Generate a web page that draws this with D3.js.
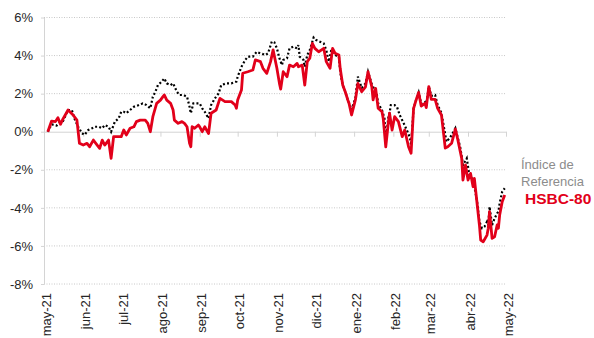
<!DOCTYPE html>
<html>
<head>
<meta charset="utf-8">
<script src="https://cdn.jsdelivr.net/npm/d3@7"></script>
<style>
  body { margin: 0; background: #fff; }
  svg { display: block; font-family: "Liberation Sans", Arial, sans-serif; }
</style>
</head>
<body>
<svg id="chart" width="594" height="338"></svg>
<script>
// Month ticks and their labels
const monthTicks = ["2021-05-01","2021-06-01","2021-07-01","2021-08-01","2021-09-01","2021-10-01",
  "2021-11-01","2021-12-01","2022-01-01","2022-02-01","2022-03-01","2022-04-01","2022-05-01"];
const monthLabels = ["may-21","jun-21","jul-21","ago-21","sep-21","oct-21",
  "nov-21","dic-21","ene-22","feb-22","mar-22","abr-22","may-22"];
const yTicks = [6, 4, 2, 0, -2, -4, -6, -8];

// HSBC-80 cumulative return (%)
const hsbcDates = [
  "2021-05-04","2021-05-07","2021-05-10","2021-05-12","2021-05-14","2021-05-16","2021-05-20","2021-05-24","2021-05-27","2021-05-29",
  "2021-06-01","2021-06-04","2021-06-06","2021-06-09","2021-06-12","2021-06-14","2021-06-16","2021-06-18","2021-06-21","2021-06-23","2021-06-25","2021-06-29",
  "2021-07-01","2021-07-03","2021-07-05","2021-07-08","2021-07-11","2021-07-13","2021-07-16","2021-07-20","2021-07-22","2021-07-24","2021-07-26","2021-07-29",
  "2021-08-01","2021-08-03","2021-08-04","2021-08-06","2021-08-09","2021-08-11","2021-08-12","2021-08-15","2021-08-18","2021-08-20","2021-08-22","2021-08-24","2021-08-25","2021-08-26","2021-08-28","2021-08-31",
  "2021-09-01","2021-09-03","2021-09-05","2021-09-08","2021-09-10","2021-09-14","2021-09-17","2021-09-21","2021-09-26","2021-09-29","2021-09-30",
  "2021-10-01","2021-10-04","2021-10-05","2021-10-09","2021-10-13","2021-10-15","2021-10-19","2021-10-21","2021-10-24","2021-10-27","2021-10-29",
  "2021-11-01","2021-11-03","2021-11-04","2021-11-06","2021-11-09","2021-11-11","2021-11-14","2021-11-17","2021-11-18","2021-11-21","2021-11-23","2021-11-25","2021-11-27","2021-11-29",
  "2021-12-01","2021-12-04","2021-12-06","2021-12-08","2021-12-10","2021-12-13","2021-12-15","2021-12-17","2021-12-20","2021-12-21","2021-12-23","2021-12-25","2021-12-27","2021-12-28","2021-12-30",
  "2022-01-02","2022-01-04","2022-01-07","2022-01-10","2022-01-12","2022-01-15","2022-01-16","2022-01-18","2022-01-19","2022-01-20","2022-01-23","2022-01-24","2022-01-26","2022-01-28","2022-01-29","2022-01-31",
  "2022-02-02","2022-02-05","2022-02-08","2022-02-10","2022-02-13","2022-02-15","2022-02-17","2022-02-19","2022-02-21","2022-02-23","2022-02-26","2022-02-27",
  "2022-03-01","2022-03-03","2022-03-06","2022-03-08","2022-03-11","2022-03-14","2022-03-16","2022-03-19","2022-03-22","2022-03-24","2022-03-27","2022-03-28","2022-03-30",
  "2022-04-01","2022-04-03","2022-04-05","2022-04-06","2022-04-08","2022-04-10","2022-04-11","2022-04-13","2022-04-16","2022-04-17","2022-04-18","2022-04-20","2022-04-22","2022-04-24","2022-04-25","2022-04-26","2022-04-28","2022-04-30"
];
const hsbcValues = [
  0.0, 0.56, 0.53, 0.74, 0.39, 0.67, 1.14, 0.88, 0.61, -0.61,
  -0.70, -0.61, -0.79, -0.44, -0.70, -0.87, -0.44, -0.70, -0.44, -1.40, -0.26, -0.26,
  -0.26, 0.09, -0.17, 0.18, 0.26, 0.53, 0.61, 0.61, 0.44, 0.0, 0.79, 1.49,
  1.66, 1.84, 1.93, 1.66, 1.49, 1.14, 0.61, 0.44, 0.53, 0.44, 0.26, -0.61, -0.79, 0.26, 0.18, 0.35,
  0.26, 0.0, 0.26, -0.10, 0.97, 1.14, 1.75, 1.58, 1.58, 1.40, 1.23,
  1.66, 2.19, 3.07, 3.15, 3.24, 3.77, 3.68, 3.33, 3.07, 3.68, 4.30,
  3.33, 2.54, 2.24, 3.15, 2.89, 3.50, 3.41, 3.59, 3.41, 3.50, 2.45, 3.68, 3.86, 4.64,
  4.38, 4.20, 4.29, 4.38, 3.68, 3.33, 4.38, 4.12, 4.03, 3.33, 2.45, 2.10, 1.67, 1.49, 0.88,
  1.67, 2.54, 2.10, 2.36, 3.15, 2.36, 1.67, 2.28, 1.75, 1.23, 1.05, 0.70, -0.79, 0.44, 0.97, 0.09,
  0.79, 0.53, -0.26, 0.09, -0.79, -1.13, 1.23, 1.67, 2.06, 1.35, 1.49, 1.27,
  2.37, 1.70, 1.70, 1.23, 0.88, -0.86, -0.79, -0.61, 0.14, -0.44, -1.40, -2.54, -1.75,
  -2.54, -2.19, -2.89, -2.45, -3.68, -4.90, -5.69, -5.78, -5.43, -5.07, -4.20, -5.60, -5.52, -4.90, -5.07, -4.38, -3.68, -3.33
];

// Benchmark index ("Índice de Referencia") cumulative return (%)
const refDates = [
  "2021-05-04","2021-05-07","2021-05-11","2021-05-14","2021-05-16","2021-05-20","2021-05-23","2021-05-25","2021-05-28","2021-05-31",
  "2021-06-02","2021-06-05","2021-06-08","2021-06-10","2021-06-13","2021-06-16","2021-06-18","2021-06-21","2021-06-23","2021-06-26","2021-06-29",
  "2021-07-01","2021-07-03","2021-07-05","2021-07-08","2021-07-11","2021-07-15","2021-07-18","2021-07-21","2021-07-24","2021-07-26","2021-07-28","2021-07-30",
  "2021-08-02","2021-08-04","2021-08-06","2021-08-09","2021-08-11","2021-08-14","2021-08-16","2021-08-19","2021-08-22","2021-08-24","2021-08-25","2021-08-27","2021-08-30",
  "2021-09-01","2021-09-03","2021-09-05","2021-09-08","2021-09-10","2021-09-13","2021-09-16","2021-09-18","2021-09-22","2021-09-26","2021-09-30",
  "2021-10-01","2021-10-04","2021-10-07","2021-10-09","2021-10-13","2021-10-16","2021-10-19","2021-10-23","2021-10-25","2021-10-28","2021-10-30",
  "2021-11-01","2021-11-03","2021-11-05","2021-11-06","2021-11-09","2021-11-11","2021-11-14","2021-11-17","2021-11-18","2021-11-19","2021-11-22","2021-11-23","2021-11-25","2021-11-27","2021-11-30",
  "2021-12-02","2021-12-05","2021-12-08","2021-12-10","2021-12-12","2021-12-14","2021-12-17","2021-12-20","2021-12-21","2021-12-23","2021-12-25","2021-12-27","2021-12-30",
  "2022-01-02","2022-01-04","2022-01-07","2022-01-10","2022-01-12","2022-01-15","2022-01-16","2022-01-19","2022-01-20","2022-01-23","2022-01-25","2022-01-26","2022-01-28","2022-01-29","2022-01-30",
  "2022-02-02","2022-02-04","2022-02-06","2022-02-09","2022-02-11","2022-02-14","2022-02-15","2022-02-17","2022-02-19","2022-02-21","2022-02-23","2022-02-26","2022-02-27",
  "2022-03-01","2022-03-03","2022-03-06","2022-03-08","2022-03-11","2022-03-15","2022-03-18","2022-03-22","2022-03-26","2022-03-28","2022-03-31",
  "2022-04-02","2022-04-05","2022-04-08","2022-04-10","2022-04-12","2022-04-14","2022-04-16","2022-04-17","2022-04-18","2022-04-20","2022-04-22","2022-04-24","2022-04-25","2022-04-26","2022-04-28","2022-04-30"
];
const refValues = [
  0.0, 0.39, 0.32, 0.51, 0.56, 1.14, 1.14, 0.70, 0.26, -0.08,
  -0.17, 0.09, 0.18, 0.26, 0.26, 0.18, 0.35, 0.26, 0.0, 0.53, 0.70,
  1.05, 1.05, 0.97, 1.14, 1.31, 1.40, 1.49, 1.40, 1.23, 1.84, 2.10, 2.45,
  2.63, 2.80, 2.54, 2.45, 2.54, 2.10, 1.93, 1.93, 1.84, 1.31, 0.97, 1.49, 1.49,
  1.49, 1.23, 1.05, 0.70, 1.40, 1.75, 2.02, 2.45, 2.54, 2.54, 2.63,
  2.89, 3.41, 3.77, 3.94, 3.94, 4.20, 4.12, 4.03, 4.12, 4.74, 4.69,
  4.38, 3.86, 3.50, 3.77, 3.86, 4.38, 4.47, 4.38, 4.55, 3.94, 3.77, 3.41, 4.03, 4.29, 4.95,
  4.82, 4.73, 4.64, 4.29, 3.68, 4.29, 4.03, 3.94, 3.15, 2.45, 2.10, 1.67, 1.14,
  1.77, 2.89, 2.30, 2.54, 3.15, 2.50, 2.36, 1.93, 1.49, 1.14, 0.70, -0.50, 0.72, 0.97, 1.40,
  1.40, 1.28, 0.88, 0.47, 0.18, -0.28, -0.70, 1.23, 1.67, 2.06, 1.46, 1.56, 1.35,
  2.37, 1.88, 1.93, 1.40, 0.98, -0.53, -0.29, 0.18, -0.87, -1.75, -1.40,
  -2.27, -2.54, -3.59, -4.73, -5.07, -4.99, -4.73, -4.90, -3.94, -4.90, -4.55, -4.29, -4.20, -3.76, -3.15, -2.97
];

const parse = d3.utcParse("%Y-%m-%d");
const svg = d3.select("#chart");

const x = d3.scaleUtc()
  .domain([parse(monthTicks[0]), parse(monthTicks[monthTicks.length - 1])])
  .range([44, 506]);
const y = d3.scaleLinear().domain([-8, 6]).range([284, 17.5]);

const axisColor = "#d4d4d4";
const textColor = "#262626";

// dotted horizontal gridlines
svg.append("g")
  .selectAll("line")
  .data(yTicks.filter(d => d !== 0))
  .join("line")
  .attr("x1", x.range()[0]).attr("x2", x.range()[1])
  .attr("y1", d => y(d)).attr("y2", d => y(d))
  .attr("stroke", "#c8c8c8")
  .attr("stroke-width", 1)
  .attr("stroke-dasharray", "1,1.5");

// y axis
const yAxis = svg.append("g")
  .attr("transform", `translate(${x.range()[0]},0)`)
  .call(d3.axisLeft(y).tickValues(yTicks).tickSize(3).tickSizeOuter(0).tickPadding(8)
    .tickFormat(d => d + "%"));
yAxis.select(".domain").attr("stroke", axisColor);
yAxis.selectAll(".tick line").attr("stroke", axisColor);
yAxis.selectAll(".tick text")
  .attr("fill", textColor)
  .style("font-size", "13px")
  .style("font-family", "'Liberation Sans', Arial, sans-serif");

// x axis line at 0% with month ticks
const xAxis = svg.append("g")
  .attr("transform", `translate(0,${y(0)})`)
  .call(d3.axisBottom(x).tickValues(monthTicks.map(parse)).tickSize(5).tickSizeOuter(0).tickFormat(""));
xAxis.select(".domain").attr("stroke", axisColor);
xAxis.selectAll(".tick line").attr("stroke", axisColor);

// rotated month labels along the bottom
const xLabels = svg.append("g")
  .attr("transform", "translate(0,293)")
  .call(d3.axisBottom(x).tickValues(monthTicks.map(parse)).tickSize(0)
    .tickFormat((d, i) => monthLabels[i]));
xLabels.select(".domain").remove();
xLabels.selectAll(".tick text")
  .attr("transform", "rotate(-90)")
  .attr("text-anchor", "end")
  .attr("x", 0)
  .attr("y", 1.5)
  .attr("dy", "0.35em")
  .attr("fill", textColor)
  .style("font-size", "13px")
  .style("font-family", "'Liberation Sans', Arial, sans-serif");

// series lines
const line = d3.line()
  .x(d => x(d.date))
  .y(d => y(d.value));

const refData = refDates.map((d, i) => ({ date: parse(d), value: refValues[i] }));
const hsbcData = hsbcDates.map((d, i) => ({ date: parse(d), value: hsbcValues[i] }));

svg.append("path")
  .datum(refData)
  .attr("d", line)
  .attr("fill", "none")
  .attr("stroke", "#000")
  .attr("stroke-width", 2.2)
  .attr("stroke-dasharray", "2,2.2");

svg.append("path")
  .datum(hsbcData)
  .attr("d", line)
  .attr("fill", "none")
  .attr("stroke", "#e2001a")
  .attr("stroke-width", 2.8)
  .attr("stroke-linejoin", "round");

// series labels
const legend = svg.append("g");
legend.append("text")
  .attr("x", 521).attr("y", 169)
  .attr("fill", "#8c8c8c")
  .style("font-size", "13px")
  .text("Índice de");
legend.append("text")
  .attr("x", 521).attr("y", 185.5)
  .attr("fill", "#8c8c8c")
  .style("font-size", "13px")
  .text("Referencia");
legend.append("text")
  .attr("x", 525).attr("y", 203.5)
  .attr("fill", "#e2001a")
  .style("font-size", "15.5px")
  .style("font-weight", "bold")
  .text("HSBC-80");
</script>
</body>
</html>
